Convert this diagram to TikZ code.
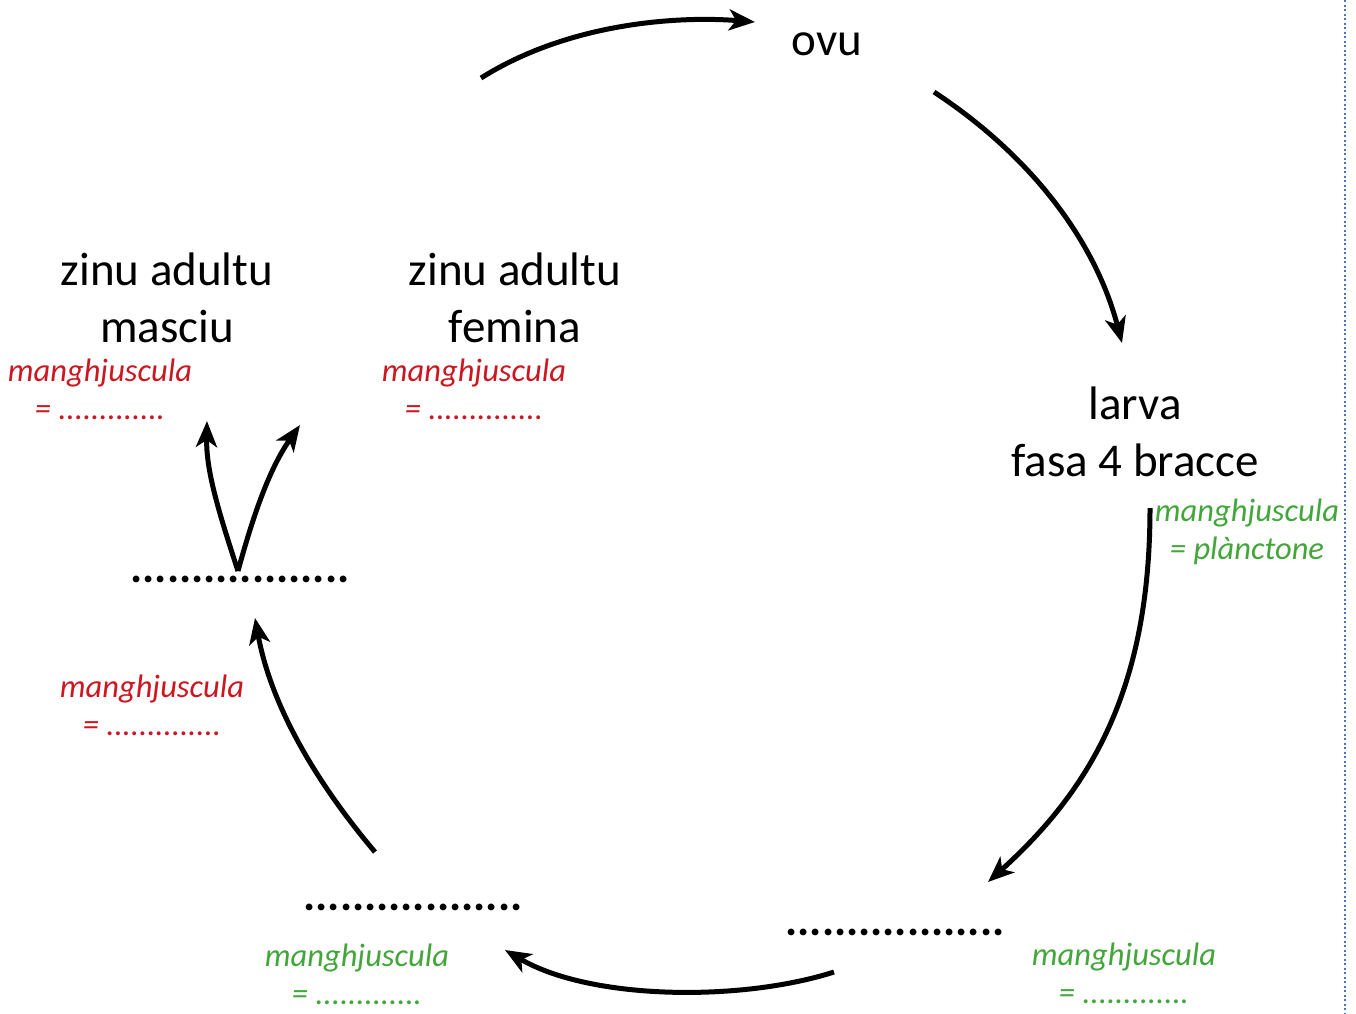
\documentclass[tikz,border=0pt]{standalone}
\usepackage{fontspec}
\setmainfont{Carlito}
\usetikzlibrary{arrows.meta}
\definecolor{redtxt}{RGB}{204,22,32}
\definecolor{greentxt}{RGB}{66,166,58}
\definecolor{bluedot}{RGB}{68,118,196}
\tikzset{
  stage/.style={font=\fontsize{47}{57}\selectfont, align=center, inner sep=0pt, anchor=base},
  note/.style={font=\fontsize{32.5}{38}\selectfont\itshape, align=center, inner sep=0pt, anchor=base},
  rednote/.style={note, text=redtxt},
  greennote/.style={note, text=greentxt},
  flow/.style={line width=5pt, -{Stealth[length=26pt,width=21pt,inset=7pt]}},
  dotline/.style={font=\fontsize{45.5}{57}\selectfont\bfseries, inner sep=0pt, anchor=base}
}
\begin{document}
\begin{tikzpicture}[x=1pt,y=-1pt]
\useasboundingbox (0,0) rectangle (1356,1013);
% stages (anchor = baseline of last line)
\node[stage] (ovu) at (827,55) {ovu};
\node[stage] (larva) at (1135,476) {larva\\fasa 4 bracce};
\node[stage] (masciu) at (167,342) {zinu adultu\\masciu};
\node[stage] (femina) at (515,342) {zinu adultu\\femina};
\node[dotline] (s3) at (240,582) {..................};
\node[dotline] (s2) at (413,910) {..................};
\node[dotline] (s1) at (895,935) {..................};
% notes
\node[rednote] (nmasciu) at (100,419) {manghjuscula\\= .............};
\node[rednote] (nfemina) at (474,419) {manghjuscula\\= ..............};
\node[rednote] (ns3) at (152,735) {manghjuscula\\= ..............};
\node[greennote] (nlarva) at (1247,559) {manghjuscula\\= plànctone};
\node[greennote] (ns2) at (357,1004) {manghjuscula\\= .............};
\node[greennote] (ns1) at (1124,1003) {manghjuscula\\= .............};
% connector end points
\coordinate (a1s) at (481,78);  \coordinate (a1e) at (755,22);
\coordinate (a2s) at (934,92);  \coordinate (a2e) at (1122,343);
\coordinate (a3s) at (1150,508); \coordinate (a3e) at (988,882);
\coordinate (a4s) at (834,972); \coordinate (a4e) at (505,950);
\coordinate (a5s) at (375,852); \coordinate (a5e) at (255,618);
\coordinate (v) at (238,571);
\coordinate (a6e) at (207,421); \coordinate (a7e) at (300,425);
% connectors
\draw[flow] (a1s) .. controls (570,22) and (680,16) .. (a1e);
\draw[flow] (a2s) .. controls (1030,155) and (1095,240) .. (a2e);
\draw[flow] (a3s) .. controls (1150,690) and (1090,790) .. (a3e);
\draw[flow] (a4s) .. controls (740,1002) and (590,1000) .. (a4e);
\draw[flow] (a5s) .. controls (310,775) and (270,700) .. (a5e);
\draw[flow] (v) .. controls (218,510) and (206,470) .. (a6e);
\draw[flow] (v) .. controls (256,505) and (272,465) .. (a7e);
% right border
\draw[bluedot, line width=2pt, dash pattern=on 2pt off 2.5pt] (1345,0) -- (1345,1013);
\end{tikzpicture}
\end{document}
